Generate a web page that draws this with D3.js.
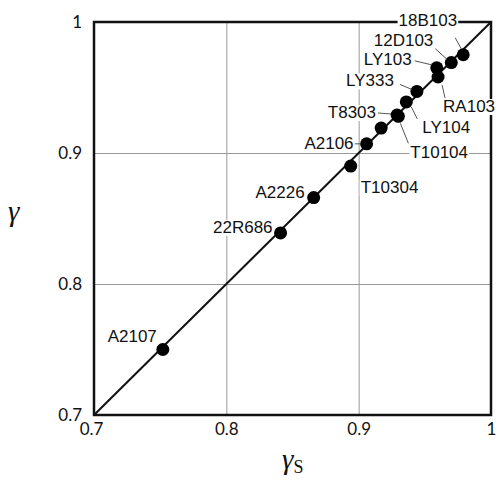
<!DOCTYPE html>
<html>
<head>
<meta charset="utf-8">
<script src="https://cdn.jsdelivr.net/npm/d3@7"></script>
<style>
  body { margin: 0; background: #fff; }
  .tick-label { font-family: Lato, 'Liberation Sans', sans-serif; font-size: 17px; fill: #111; }
  .pt-label { font-family: 'Liberation Sans', Arial, sans-serif; font-size: 17px; fill: #111; }
  .leader { stroke: #555; stroke-width: 1; }
  .grid line { stroke: #999; stroke-width: 1; }
  .title { font-family: 'Liberation Serif', 'DejaVu Serif', serif; fill: #111; }
</style>
</head>
<body>
<div id="chart"></div>
<script>
// specimen names, gamma_s (x) and gamma (y)
var names  = ['A2107', '22R686', 'A2226', 'T10304', 'A2106', '', 'T8303', 'T10104',
              'LY104', 'LY333', 'LY103', 'RA103', '12D103', '18B103'];
var gammaS = [0.752, 0.841, 0.866, 0.894, 0.906, 0.917, 0.929, 0.930,
              0.936, 0.944, 0.959, 0.960, 0.970, 0.979];
var gamma  = [0.750, 0.839, 0.866, 0.890, 0.907, 0.919, 0.929, 0.928,
              0.939, 0.947, 0.965, 0.958, 0.969, 0.975];
var ticks = [0.7, 0.8, 0.9, 1];
var tickLabels = ['0.7', '0.8', '0.9', '1'];

// label placement relative to each dot (pixels): anchor, dx, dy, leader line
var labelLayout = {
  'A2107':  { anchor: 'end',   dx: -6,  dy: -8 },
  '22R686': { anchor: 'end',   dx: -8,  dy: 0 },
  'A2226':  { anchor: 'end',   dx: -9,  dy: 0 },
  'T10304': { anchor: 'start', dx: 10,  dy: 27 },
  'A2106':  { anchor: 'end',   dx: -13, dy: 5,  leader: [-12, 0, -6, 0] },
  'T8303':  { anchor: 'end',   dx: -21, dy: 3,  leader: [-19, -2, -6, -1] },
  'T10104': { anchor: 'start', dx: 12,  dy: 42, leader: [10, 27, 2, 7] },
  'LY104':  { anchor: 'start', dx: 16,  dy: 31, leader: [11, 17, 5, 5] },
  'LY333':  { anchor: 'end',   dx: -23, dy: -5, leader: [-17, -7, -5, -2] },
  'LY103':  { anchor: 'end',   dx: -25, dy: -3, leader: [-22, -7, -5, -3] },
  'RA103':  { anchor: 'start', dx: 5,   dy: 35, leader: [4, 8, 7, 21] },
  '12D103': { anchor: 'end',   dx: -18, dy: -17, leader: [-16, -14, -4, -3] },
  '18B103': { anchor: 'end',   dx: -6,  dy: -29, leader: [-8, -17, -2, -6] }
};

var W = 496, H = 479;
var margin = { top: 22, right: 5, bottom: 64, left: 94 };
var width = W - margin.left - margin.right;
var height = H - margin.top - margin.bottom;

var x = d3.scaleLinear().domain([0.7, 1]).range([0, width]);
var y = d3.scaleLinear().domain([0.7, 1]).range([height, 0]);

var svg = d3.select('#chart').append('svg')
    .attr('width', W)
    .attr('height', H)
  .append('g')
    .attr('transform', 'translate(' + margin.left + ',' + margin.top + ')');

// grid lines
svg.append('g')
    .attr('class', 'grid')
    .attr('transform', 'translate(0,' + height + ')')
    .call(d3.axisBottom(x).tickValues([0.8, 0.9]).tickSize(-height).tickFormat(''))
    .call(function (g) { g.select('.domain').remove(); });

svg.append('g')
    .attr('class', 'grid')
    .call(d3.axisLeft(y).tickValues([0.8, 0.9]).tickSize(-width).tickFormat(''))
    .call(function (g) { g.select('.domain').remove(); });

// tick labels
svg.append('g')
    .attr('transform', 'translate(0,' + height + ')')
    .call(d3.axisBottom(x).tickValues(ticks).tickSize(0).tickPadding(8)
      .tickFormat(function (d, i) { return tickLabels[i]; }))
    .call(function (g) {
      g.select('.domain').remove();
      g.selectAll('text').attr('class', 'tick-label').attr('font-family', null).attr('font-size', null);
      g.selectAll('.tick').filter(function (d) { return d === 0.7; }).select('text').attr('dx', -3);
    });

svg.append('g')
    .call(d3.axisLeft(y).tickValues(ticks).tickSize(0).tickPadding(12)
      .tickFormat(function (d, i) { return tickLabels[i]; }))
    .call(function (g) {
      g.select('.domain').remove();
      g.selectAll('text').attr('class', 'tick-label').attr('font-family', null).attr('font-size', null);
    });

// frame
svg.append('rect')
    .attr('width', width)
    .attr('height', height)
    .attr('fill', 'none')
    .attr('stroke', '#111')
    .attr('stroke-width', 2.5);

// 1:1 line
svg.append('line')
    .attr('x1', x(0.7)).attr('y1', y(0.7))
    .attr('x2', x(1)).attr('y2', y(1))
    .attr('stroke', '#111')
    .attr('stroke-width', 2);

var points = names.map(function (n, i) {
  return { name: n, xs: gammaS[i], g: gamma[i] };
});

svg.selectAll('circle.dot')
    .data(points)
  .enter().append('circle')
    .attr('class', 'dot')
    .attr('cx', function (d) { return x(d.xs); })
    .attr('cy', function (d) { return y(d.g); })
    .attr('r', 6.5)
    .attr('fill', '#000');

// leaders and labels
points.forEach(function (d) {
  var lay = labelLayout[d.name];
  if (!lay) { return; }
  var cx = x(d.xs), cy = y(d.g);
  if (lay.leader) {
    svg.append('line')
        .attr('class', 'leader')
        .attr('x1', cx + lay.leader[0]).attr('y1', cy + lay.leader[1])
        .attr('x2', cx + lay.leader[2]).attr('y2', cy + lay.leader[3]);
  }
  var grp = svg.append('g');
  var t = grp.append('text')
      .attr('class', 'pt-label')
      .attr('x', cx + lay.dx)
      .attr('y', cy + lay.dy)
      .attr('text-anchor', lay.anchor)
      .text(d.name);
  var bb = t.node().getBBox();
  grp.insert('rect', 'text')
      .attr('x', bb.x - 1).attr('y', bb.y + 2)
      .attr('width', bb.width + 2).attr('height', bb.height - 3)
      .attr('fill', '#fff');
});

// axis titles
var root = d3.select('#chart svg');
root.append('text')
    .attr('class', 'title')
    .attr('x', 8).attr('y', 221)
    .attr('font-size', 29)
    .attr('font-style', 'italic')
    .text('γ');

var xt = root.append('text')
    .attr('class', 'title')
    .attr('x', 282).attr('y', 469)
    .attr('font-size', 29);
xt.append('tspan').attr('font-style', 'italic').text('γ');
xt.append('tspan').attr('font-size', 18).attr('dy', 4).text('S');
</script>
</body>
</html>
